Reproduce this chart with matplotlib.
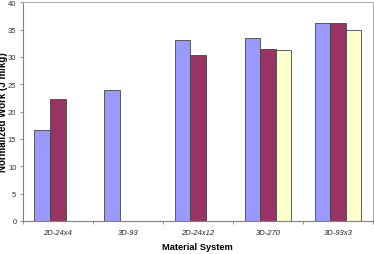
import numpy as np
import matplotlib
matplotlib.use("Agg")
import matplotlib.pyplot as plt

# values
categories = ["2D-24x4", "3D-93", "2D-24x12", "3D-270", "3D-93x3"]
series_a = [16.6, 24.0, 33.1, 33.5, 36.3]
series_b = [22.3, np.nan, 30.3, 31.5, 36.2]
series_c = [np.nan, np.nan, np.nan, 31.3, 34.9]
colors = ["#9999FF", "#993366", "#FFFFCC"]
y_ticks = [0, 5, 10, 15, 20, 25, 30, 35, 40]

plt.rcParams['font.family'] = ['Liberation Sans', 'DejaVu Sans']

W, H = 374, 255
fig = plt.figure(figsize=(W / 100, H / 100), dpi=100)
ax = fig.add_axes([22.7 / W, (H - 222) / H, (373 - 22.7) / W, (222 - 3.3) / H])

x = np.arange(len(categories))
width = 0.222
for i, (vals, c) in enumerate(zip([series_a, series_b, series_c], colors)):
    ax.bar(x + (i - 1) * width, vals, width, color=c, edgecolor="#444444", linewidth=0.6)

ax.set_xlim(-0.5, len(categories) - 0.5)
ax.set_ylim(0, 40)
ax.set_yticks(y_ticks)
ax.set_yticklabels([str(t) for t in y_ticks], fontsize=5.5, color="#333333")
ax.set_xticks(x)
ax.set_xticklabels(categories, fontsize=5.5, style="italic", color="#222222")
ax.tick_params(axis="x", length=0, pad=6)
ax.set_xticks(np.arange(len(categories) + 1) - 0.5, minor=True)
ax.tick_params(axis="x", which="minor", length=2.5, color="#808080", width=0.6)
ax.tick_params(axis="y", length=2.5, color="#808080", width=0.6, pad=2)

for s in ["left", "bottom"]:
    ax.spines[s].set_color("#808080")
    ax.spines[s].set_linewidth(0.8)
for s in ["top", "right"]:
    ax.spines[s].set_color("#B0B0B0")
    ax.spines[s].set_linewidth(0.8)

ax.set_xlabel("Material System", fontsize=6.7, fontweight="bold", labelpad=4)
fig.text(3 / W, 1 - 112.5 / H, "Normalized Work (J m/kg)", rotation=90,
         fontsize=7, fontweight="bold", ha="center", va="center")

fig.savefig("out.png", dpi=100)
